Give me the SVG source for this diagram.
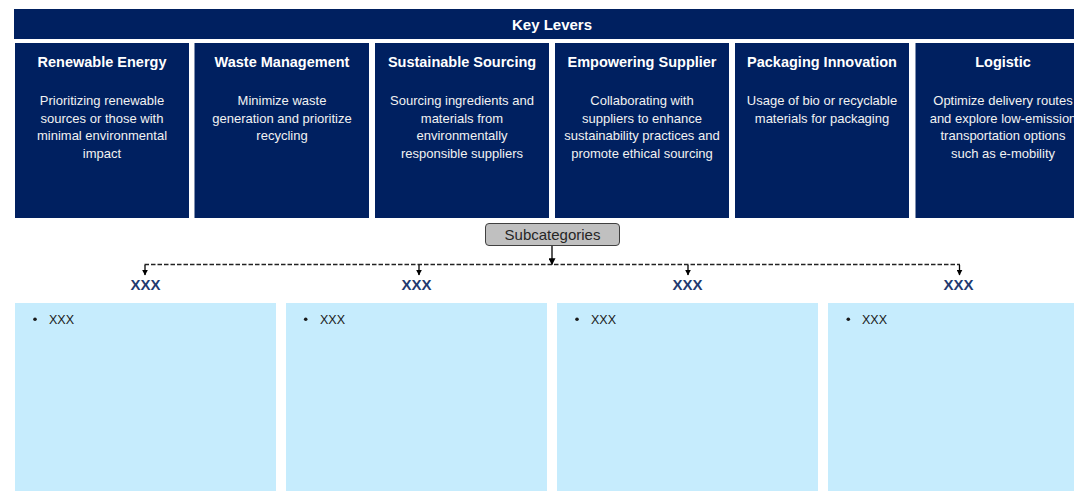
<svg xmlns="http://www.w3.org/2000/svg" width="1074" height="491" viewBox="0 0 1074 491">
  <defs>
    <marker id="tip" viewBox="0 0 10 10" refX="9" refY="5" markerWidth="6" markerHeight="6" orient="auto" markerUnits="userSpaceOnUse">
      <path d="M0,0 L10,5 L0,10 z" fill="#000"/>
    </marker>
    <marker id="tipBig" viewBox="0 0 10 10" refX="9" refY="5" markerWidth="7" markerHeight="7" orient="auto" markerUnits="userSpaceOnUse">
      <path d="M0,0 L10,5 L0,10 z" fill="#000"/>
    </marker>
  </defs>
  <style>
    text { font-family: "Liberation Sans", Arial, sans-serif; }
    .navy { fill: #002060; }
    .hdr { fill: #ffffff; font-size: 15px; font-weight: bold; text-anchor: middle; }
    .title { fill: #ffffff; font-size: 14.5px; font-weight: bold; text-anchor: middle; }
    .desc { fill: #f2f2f2; font-size: 13px; text-anchor: middle; }
    .sub { fill: #c6ecfd; }
    .subhead { fill: #1f3a70; font-size: 15px; font-weight: bold; text-anchor: middle; }
    .bullet { fill: #1a1a1a; font-size: 12.5px; }
    .pill { fill: #c0c0c0; stroke: #404040; stroke-width: 1; }
    .pilltxt { fill: #262626; font-size: 15px; text-anchor: middle; }
    .dash { stroke: #222; stroke-width: 1.6; stroke-dasharray: 4.5 2; fill: none; }
    .drop { stroke: #000; stroke-width: 1.3; fill: none; }
  </style>

  <!-- header -->
  <g id="key-levers">
    <rect class="navy" x="14" y="9" width="1080" height="30"/>
    <text class="hdr" x="552" y="30">Key Levers</text>
  </g>

  <!-- lever cards -->
  <g id="renewable-energy">
    <rect class="navy" x="15" y="43" width="174" height="175"/>
    <text class="title" x="102" y="67">Renewable Energy</text>
    <text class="desc" x="102" y="105">Prioritizing renewable</text>
    <text class="desc" x="102" y="122.5">sources or those with</text>
    <text class="desc" x="102" y="140">minimal environmental</text>
    <text class="desc" x="102" y="157.5">impact</text>
  </g>
  <g id="waste-management">
    <rect class="navy" x="194.5" y="43" width="174.5" height="175"/>
    <text class="title" x="282" y="67">Waste Management</text>
    <text class="desc" x="282" y="105">Minimize waste</text>
    <text class="desc" x="282" y="122.5">generation and prioritize</text>
    <text class="desc" x="282" y="140">recycling</text>
  </g>
  <g id="sustainable-sourcing">
    <rect class="navy" x="375" y="43" width="174" height="175"/>
    <text class="title" x="462" y="67">Sustainable Sourcing</text>
    <text class="desc" x="462" y="105">Sourcing ingredients and</text>
    <text class="desc" x="462" y="122.5">materials from</text>
    <text class="desc" x="462" y="140">environmentally</text>
    <text class="desc" x="462" y="157.5">responsible suppliers</text>
  </g>
  <g id="empowering-supplier">
    <rect class="navy" x="555" y="43" width="174" height="175"/>
    <text class="title" x="642" y="67">Empowering Supplier</text>
    <text class="desc" x="642" y="105">Collaborating with</text>
    <text class="desc" x="642" y="122.5">suppliers to enhance</text>
    <text class="desc" x="642" y="140">sustainability practices and</text>
    <text class="desc" x="642" y="157.5">promote ethical sourcing</text>
  </g>
  <g id="packaging-innovation">
    <rect class="navy" x="735" y="43" width="174" height="175"/>
    <text class="title" x="822" y="67">Packaging Innovation</text>
    <text class="desc" x="822" y="105">Usage of bio or recyclable</text>
    <text class="desc" x="822" y="122.5">materials for packaging</text>
  </g>
  <g id="logistic">
    <rect class="navy" x="915.5" y="43" width="175" height="175"/>
    <text class="title" x="1003" y="67">Logistic</text>
    <text class="desc" x="1003" y="105">Optimize delivery routes</text>
    <text class="desc" x="1003" y="122.5">and explore low-emission</text>
    <text class="desc" x="1003" y="140">transportation options</text>
    <text class="desc" x="1003" y="157.5">such as e-mobility</text>
  </g>

  <!-- subcategories label -->
  <g id="subcategories">
    <rect class="pill" x="485.5" y="223.5" width="134" height="22" rx="3.5" ry="3.5"/>
    <text class="pilltxt" x="552.5" y="240">Subcategories</text>
  </g>

  <!-- connectors -->
  <g id="connectors">
    <line class="drop" x1="552" y1="246" x2="552" y2="264.5" marker-end="url(#tipBig)"/>
    <line class="dash" x1="144.5" y1="264.5" x2="960" y2="264.5"/>
    <line class="drop" x1="145" y1="265" x2="145" y2="275" marker-end="url(#tip)"/>
    <line class="drop" x1="419" y1="265" x2="419" y2="275" marker-end="url(#tip)"/>
    <line class="drop" x1="688" y1="265" x2="688" y2="275" marker-end="url(#tip)"/>
    <line class="drop" x1="959.5" y1="265" x2="959.5" y2="275" marker-end="url(#tip)"/>
  </g>

  <!-- subcategory columns -->
  <g id="sub-1">
    <text class="subhead" x="145.5" y="290">XXX</text>
    <rect class="sub" x="15" y="303" width="261" height="188"/>
    <circle cx="35" cy="319.3" r="1.8" fill="#1a1a1a"/>
    <text class="bullet" x="49" y="323.5">XXX</text>
  </g>
  <g id="sub-2">
    <text class="subhead" x="416.5" y="290">XXX</text>
    <rect class="sub" x="286" y="303" width="261" height="188"/>
    <circle cx="305.7" cy="319.3" r="1.8" fill="#1a1a1a"/>
    <text class="bullet" x="320" y="323.5">XXX</text>
  </g>
  <g id="sub-3">
    <text class="subhead" x="687.5" y="290">XXX</text>
    <rect class="sub" x="557" y="303" width="261" height="188"/>
    <circle cx="577" cy="319.3" r="1.8" fill="#1a1a1a"/>
    <text class="bullet" x="591" y="323.5">XXX</text>
  </g>
  <g id="sub-4">
    <text class="subhead" x="958.5" y="290">XXX</text>
    <rect class="sub" x="828" y="303" width="261" height="188"/>
    <circle cx="848.3" cy="319.3" r="1.8" fill="#1a1a1a"/>
    <text class="bullet" x="862" y="323.5">XXX</text>
  </g>
</svg>
